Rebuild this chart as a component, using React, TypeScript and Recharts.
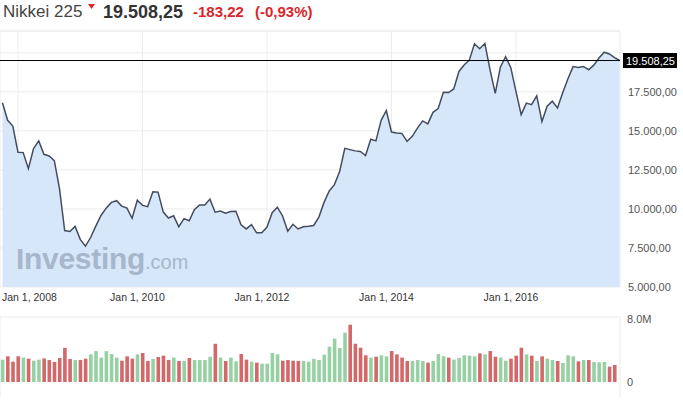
import { ComposedChart, Area, Bar, Cell, XAxis, YAxis, CartesianGrid, ReferenceLine } from "recharts";

// monthly closes, first point Oct 2007, last point is the current value
const CLOSE = [
  16800, 15680, 15310,
  13630, 13610, 12580, 13870, 14360, 13500, 13390, 13090, 11300, 8620, 8560, 8880,
  8050, 7620, 8170, 8900, 9580, 10050, 10420, 10530, 10180, 10050, 9400, 10560,
  10230, 10150, 11100, 11080, 9800, 9420, 9560, 8860, 9380, 9240, 9950, 10250,
  10260, 10630, 9790, 9860, 9730, 9830, 9850, 8990, 8720, 9000, 8470, 8480,
  8840, 9760, 10110, 9550, 8580, 9020, 8720, 8860, 8890, 8940, 9480, 10420,
  11150, 11560, 12390, 13880, 13800, 13720, 13680, 13420, 14470, 14360, 15680, 16300,
  14930, 14860, 14840, 14330, 14650, 15180, 15640, 15450, 16190, 16430, 17470, 17460,
  17690, 18810, 19220, 19530, 20580, 20260, 20600, 18910, 17400, 19100, 19760, 19050,
  17520, 16040, 16780, 16680, 17250, 15600, 16580, 16900, 16470, 17440, 18320, 19120,
  19060, 19130, 18920, 19210, 19670, 20040, 19930, 19700, 19508.25,
];

// monthly volume in millions, Oct 2007 .. Aug 2017
const VOLUME = [
  2.75, 3.16, 2.5,
  3.16, 3.0, 2.87, 2.62, 2.75, 2.9, 2.7, 2.46, 2.95, 4.2, 2.83, 2.7,
  2.7, 2.87, 3.4, 3.8, 3.0, 3.8, 3.44, 3.0, 2.62, 3.16, 2.87, 3.4,
  3.57, 2.58, 2.83, 3.07, 3.24, 2.7, 3.0, 2.58, 2.58, 2.95, 2.7, 2.7,
  2.7, 3.1, 4.7, 3.0, 2.58, 3.0, 2.54, 3.44, 2.75, 2.5, 2.38, 2.25,
  2.25, 3.57, 3.4, 2.62, 2.7, 2.62, 2.58, 2.58, 2.5, 2.85, 2.7, 3.36,
  4.34, 5.33, 4.18, 6.07, 7.05, 4.71, 4.22, 3.28, 3.0, 3.11, 3.28, 3.16,
  3.81, 3.4, 3.0, 2.58, 2.58, 2.7, 2.58, 2.38, 2.58, 3.44, 3.16, 3.0,
  2.75, 2.95, 3.28, 3.24, 3.16, 3.52, 3.4, 3.81, 3.11, 3.0, 2.62, 2.87,
  3.24, 4.22, 3.4, 3.24, 2.58, 3.16, 2.87, 2.7, 2.58, 2.34, 3.28, 3.16,
  2.54, 2.7, 2.7, 2.46, 2.42, 2.46, 1.89, 2.09,
];

// u = up month (green), d = down month (red)
const DIRECTION = [
  "u", "d", "d",
  "d", "u", "d", "u", "u", "d", "d", "d", "d", "d", "d", "u",
  "d", "d", "u", "u", "u", "u", "u", "u", "d", "d", "d", "u",
  "d", "d", "u", "d", "d", "d", "u", "d", "u", "d", "u", "u",
  "u", "u", "d", "u", "d", "u", "u", "d", "d", "u", "d", "u",
  "u", "u", "u", "d", "d", "d", "d", "u", "u", "u", "u", "u",
  "u", "u", "u", "u", "d", "d", "d", "d", "u", "d", "u", "u",
  "d", "d", "d", "d", "u", "u", "u", "d", "u", "u", "u", "d",
  "u", "u", "u", "u", "u", "d", "u", "d", "d", "u", "u", "d",
  "d", "d", "u", "d", "u", "d", "u", "u", "d", "u", "u", "u",
  "d", "u", "d", "u", "u", "u", "d", "d",
];

const FIRST_MONTH = -3; // months from Jan 2008
const X_TICKS = [0, 24, 48, 72, 96];
const X_LABELS = ["Jan 1, 2008", "Jan 1, 2010", "Jan 1, 2012", "Jan 1, 2014", "Jan 1, 2016"];
const Y_TICKS = [5000, 7500, 10000, 12500, 15000, 17500, 20000];
const Y_LABELS = ["5.000,00", "7.500,00", "10.000,00", "12.500,00", "15.000,00", "17.500,00", ""];
const VOL_TICKS = [0, 8];
const VOL_LABELS = ["0", "8.0M"];

const LAST = 19508.25;
const LAST_LABEL = "19.508,25";

const rows = CLOSE.map((close, i) => ({
  m: FIRST_MONTH + i,
  close,
  vol: i < VOLUME.length ? VOLUME[i] : null,
  dir: DIRECTION[i],
}));

const X_DOMAIN: [number, number] = [-3.47, 116.05];
const FONT = "Arial, 'Liberation Sans', sans-serif";
const GRID = "#ececec";
const UP = "#97d1a3";
const DOWN = "#d3686a";

function XTick(props: any) {
  const { x, index } = props;
  const first = index === 0;
  return (
    <text x={first ? 2 : x - 5} y={301} textAnchor={first ? "start" : "middle"} fontSize={10.5} fill="#333" fontFamily={FONT}>
      {X_LABELS[index]}
    </text>
  );
}

function YTick(props: any) {
  const { y, index } = props;
  return (
    <text x={628} y={y + 4} fontSize={11} fill="#555" fontFamily={FONT}>
      {Y_LABELS[index]}
    </text>
  );
}

function VolTick(props: any) {
  const { y, index } = props;
  return (
    <text x={627} y={y + 4} fontSize={11} fill="#555" fontFamily={FONT}>
      {VOL_LABELS[index]}
    </text>
  );
}

function PriceTag(props: any) {
  const vb = props.viewBox || {};
  const x = vb.x + vb.width + 3;
  const y = vb.y;
  return (
    <g>
      <rect x={x} y={y - 7.5} width={54} height={15} fill="#000" />
      <text x={x + 3} y={y + 4} fontSize={11} fill="#fff" fontFamily={FONT}>
        {LAST_LABEL}
      </text>
    </g>
  );
}

function Title() {
  return (
    <svg width={683} height={28} style={{ position: "absolute", left: 0, top: 0 }}>
      <text x={3} y={17} fontSize={17} fill="#444" fontFamily={FONT}>Nikkei 225</text>
      <path d="M88,4 L95,4 L91.5,9 Z" fill="#d9262c" />
      <text x={103} y={17.5} fontSize={18} fontWeight="bold" fill="#333" fontFamily={FONT}>19.508,25</text>
      <text x={193} y={17} fontSize={15} fontWeight="bold" fill="#d9262c" fontFamily={FONT}>-183,22</text>
      <text x={255} y={17} fontSize={15} fontWeight="bold" fill="#d9262c" fontFamily={FONT}>(-0,93%)</text>
    </svg>
  );
}

export default function App() {
  return (
    <div style={{ position: "absolute", left: 0, top: 0, width: 683, height: 401, background: "#fff", overflow: "hidden" }}>
      <Title />
      <div style={{ position: "absolute", left: 0, top: 0 }}>
        <ComposedChart width={683} height={310} data={rows} margin={{ top: 31, right: 0, left: 0, bottom: 3 }}>
          <CartesianGrid stroke={GRID} />
          <XAxis
            type="number"
            dataKey="m"
            domain={X_DOMAIN}
            ticks={X_TICKS}
            height={20}
            axisLine={false}
            tickLine={false}
            tick={<XTick />}
            allowDataOverflow
          />
          <YAxis
            orientation="right"
            width={63}
            domain={[5000, 21400]}
            ticks={Y_TICKS}
            axisLine={false}
            tickLine={false}
            tick={<YTick />}
            allowDataOverflow
          />
          <ReferenceLine y={21400} stroke={GRID} />
          <Area
            type="linear"
            dataKey="close"
            stroke="#434d5f"
            strokeWidth={1.5}
            fill="#d6e7fa"
            fillOpacity={1}
            dot={false}
            activeDot={false}
            isAnimationActive={false}
          />
          <ReferenceLine y={LAST} stroke="#000" strokeWidth={1} label={<PriceTag />} />
        </ComposedChart>
      </div>
      <div
        style={{
          position: "absolute",
          left: 16,
          top: 242,
          fontFamily: FONT,
          color: "#a7b6ca",
          whiteSpace: "nowrap",
          pointerEvents: "none",
        }}
      >
        <span style={{ fontSize: 30, fontWeight: "bold", letterSpacing: -0.3 }}>Investing</span>
        <span style={{ fontSize: 20 }}>.com</span>
      </div>
      <div style={{ position: "absolute", left: 0, top: 310 }}>
        <ComposedChart width={683} height={91} data={rows} margin={{ top: 7, right: 0, left: 0, bottom: 4 }}>
          <CartesianGrid stroke={GRID} horizontal={false} />
          <XAxis
            type="number"
            dataKey="m"
            domain={X_DOMAIN}
            ticks={X_TICKS}
            height={0}
            axisLine={false}
            tickLine={false}
            tick={false}
            allowDataOverflow
          />
          <YAxis
            orientation="right"
            width={63}
            domain={[-1.85, 8]}
            ticks={VOL_TICKS}
            axisLine={false}
            tickLine={false}
            tick={<VolTick />}
            allowDataOverflow
          />
          <ReferenceLine y={8} stroke={GRID} />
          <Bar dataKey="vol" barSize={3.6} isAnimationActive={false}>
            {rows.map((r, i) => (
              <Cell key={i} fill={r.dir === "u" ? UP : DOWN} />
            ))}
          </Bar>
        </ComposedChart>
      </div>
    </div>
  );
}
